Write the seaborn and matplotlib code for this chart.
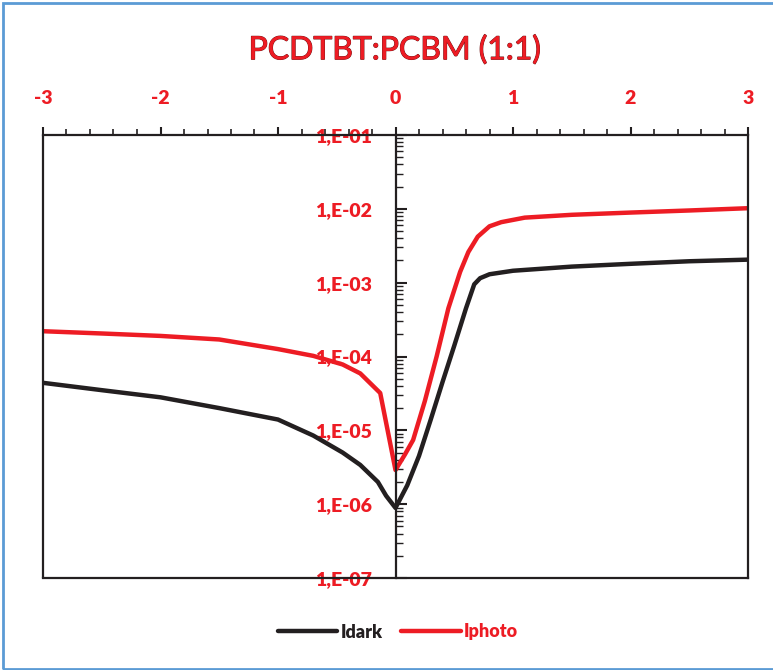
import matplotlib.pyplot as plt
import matplotlib.ticker as mticker
import matplotlib.patheffects as pe
from matplotlib.patches import Rectangle
import seaborn as sns
import pandas as pd
import numpy as np

# voltage (V) and currents (A)
v_dark = [-3, -2.5, -2, -1.5, -1.0, -0.7, -0.45, -0.3, -0.15, -0.08, 0, 0.1, 0.2, 0.3,
          0.4, 0.5, 0.6, 0.67, 0.72, 0.8, 1.0, 1.5, 2.0, 2.5, 3]
i_dark = [4.4e-5, 3.5e-5, 2.8e-5, 2.0e-5, 1.4e-5, 8.5e-6, 5.0e-6, 3.4e-6, 2.0e-6, 1.3e-6,
          8.9e-7, 1.8e-6, 4.5e-6, 1.4e-5, 4.5e-5, 1.4e-4, 4.5e-4, 9.5e-4, 1.15e-3, 1.3e-3,
          1.45e-3, 1.65e-3, 1.8e-3, 1.95e-3, 2.05e-3]

v_photo = [-3, -2.5, -2, -1.5, -1.0, -0.7, -0.45, -0.3, -0.13, 0, 0.08, 0.15, 0.25, 0.35,
           0.45, 0.55, 0.62, 0.7, 0.8, 0.9, 1.1, 1.5, 2.0, 2.5, 3]
i_photo = [2.2e-4, 2.05e-4, 1.9e-4, 1.7e-4, 1.26e-4, 1.02e-4, 7.8e-5, 5.9e-5, 3.2e-5,
           2.9e-6, 4.7e-6, 7.4e-6, 2.5e-5, 1.0e-4, 4.5e-4, 1.4e-3, 2.6e-3, 4.2e-3, 5.8e-3,
           6.6e-3, 7.6e-3, 8.3e-3, 8.9e-3, 9.5e-3, 1.02e-2]

series = ['Idark', 'Iphoto']
colors = ['#231F20', '#ED1C24']
title = 'PCDTBT:PCBM (1:1)'

df = pd.concat([
    pd.DataFrame({'V': v_dark, 'I': i_dark, 'serie': series[0]}),
    pd.DataFrame({'V': v_photo, 'I': i_photo, 'serie': series[1]}),
])

sns.set_style('white')
plt.rcParams['font.family'] = ['Lato', 'DejaVu Sans']
plt.rcParams['axes.unicode_minus'] = False

red = '#ED1C24'
dark = '#231F20'
fig = plt.figure(figsize=(7.73, 6.70), dpi=100)
ax = fig.add_axes([43/773, 1 - 578/670, 705/773, 443/670])

sns.lineplot(data=df, x='V', y='I', hue='serie', palette=colors, sort=False,
             linewidth=3.2, ax=ax, legend=False)

ax.set_yscale('log')
ax.set_xlim(-3, 3)
ax.set_ylim(1e-7, 1e-1)

# ramecek grafu + osa y v nule
for s in ['top', 'bottom', 'right', 'left']:
    ax.spines[s].set_visible(True)
    ax.spines[s].set_color(dark)
    ax.spines[s].set_linewidth(1.6)
ax.spines['left'].set_position(('data', 0))
ax.axvline(-3, color=dark, lw=1.6, clip_on=False)

ax.xaxis.tick_top()
ax.xaxis.set_major_locator(mticker.MultipleLocator(1))
ax.xaxis.set_minor_locator(mticker.MultipleLocator(0.2))
ax.tick_params(axis='x', which='both', top=True, bottom=False)
ax.tick_params(axis='x', which='major', direction='out', length=6, width=1.5,
               color=dark, pad=14, labelsize=14, labelcolor=red)
ax.tick_params(axis='x', which='minor', direction='out', length=4, width=1.2,
               color=dark)

ax.yaxis.set_major_locator(mticker.LogLocator(base=10, numticks=10))
ax.yaxis.set_minor_locator(mticker.LogLocator(base=10, subs=np.arange(2, 10), numticks=10))
ax.yaxis.set_minor_formatter(mticker.NullFormatter())
ax.yaxis.set_major_formatter(mticker.FuncFormatter(
    lambda v, p: '1,E-%02d' % round(-np.log10(v))))
ax.tick_params(axis='y', which='both', left=True, right=False)
ax.tick_params(axis='y', which='major', direction='in', length=8, width=1.5,
               color=dark, pad=17, labelsize=14, labelcolor=red)
ax.tick_params(axis='y', which='minor', direction='in', length=5, width=1.0,
               color=dark)

ax.set_xlabel('')
ax.set_ylabel('')

fig.canvas.draw()
for lab in ax.get_xticklabels() + ax.get_yticklabels():
    lab.set_fontweight('heavy')

fig.text(395/773, 1 - 50/670, title, ha='center', va='center', fontsize=23,
         color=red, path_effects=[pe.withStroke(linewidth=0.8, foreground='#6a1010'),
                                  pe.Normal()])

handles = [plt.Line2D([], [], color=c, lw=3.2) for c in colors]
leg = fig.legend(handles, series, loc='center', bbox_to_anchor=(398/773, 1 - 632/670),
                 ncol=2, frameon=False, handlelength=3.3, handletextpad=0.2,
                 columnspacing=1.0, prop={'weight': 'heavy', 'size': 13},
                 labelcolor='linecolor')

fig.patches.append(Rectangle((3/773, 1.5/670), 1.2, 666/670, transform=fig.transFigure,
                             fill=False, edgecolor='#5B9BD5', lw=2))

plt.savefig('out.png', dpi=100)
plt.close(fig)
